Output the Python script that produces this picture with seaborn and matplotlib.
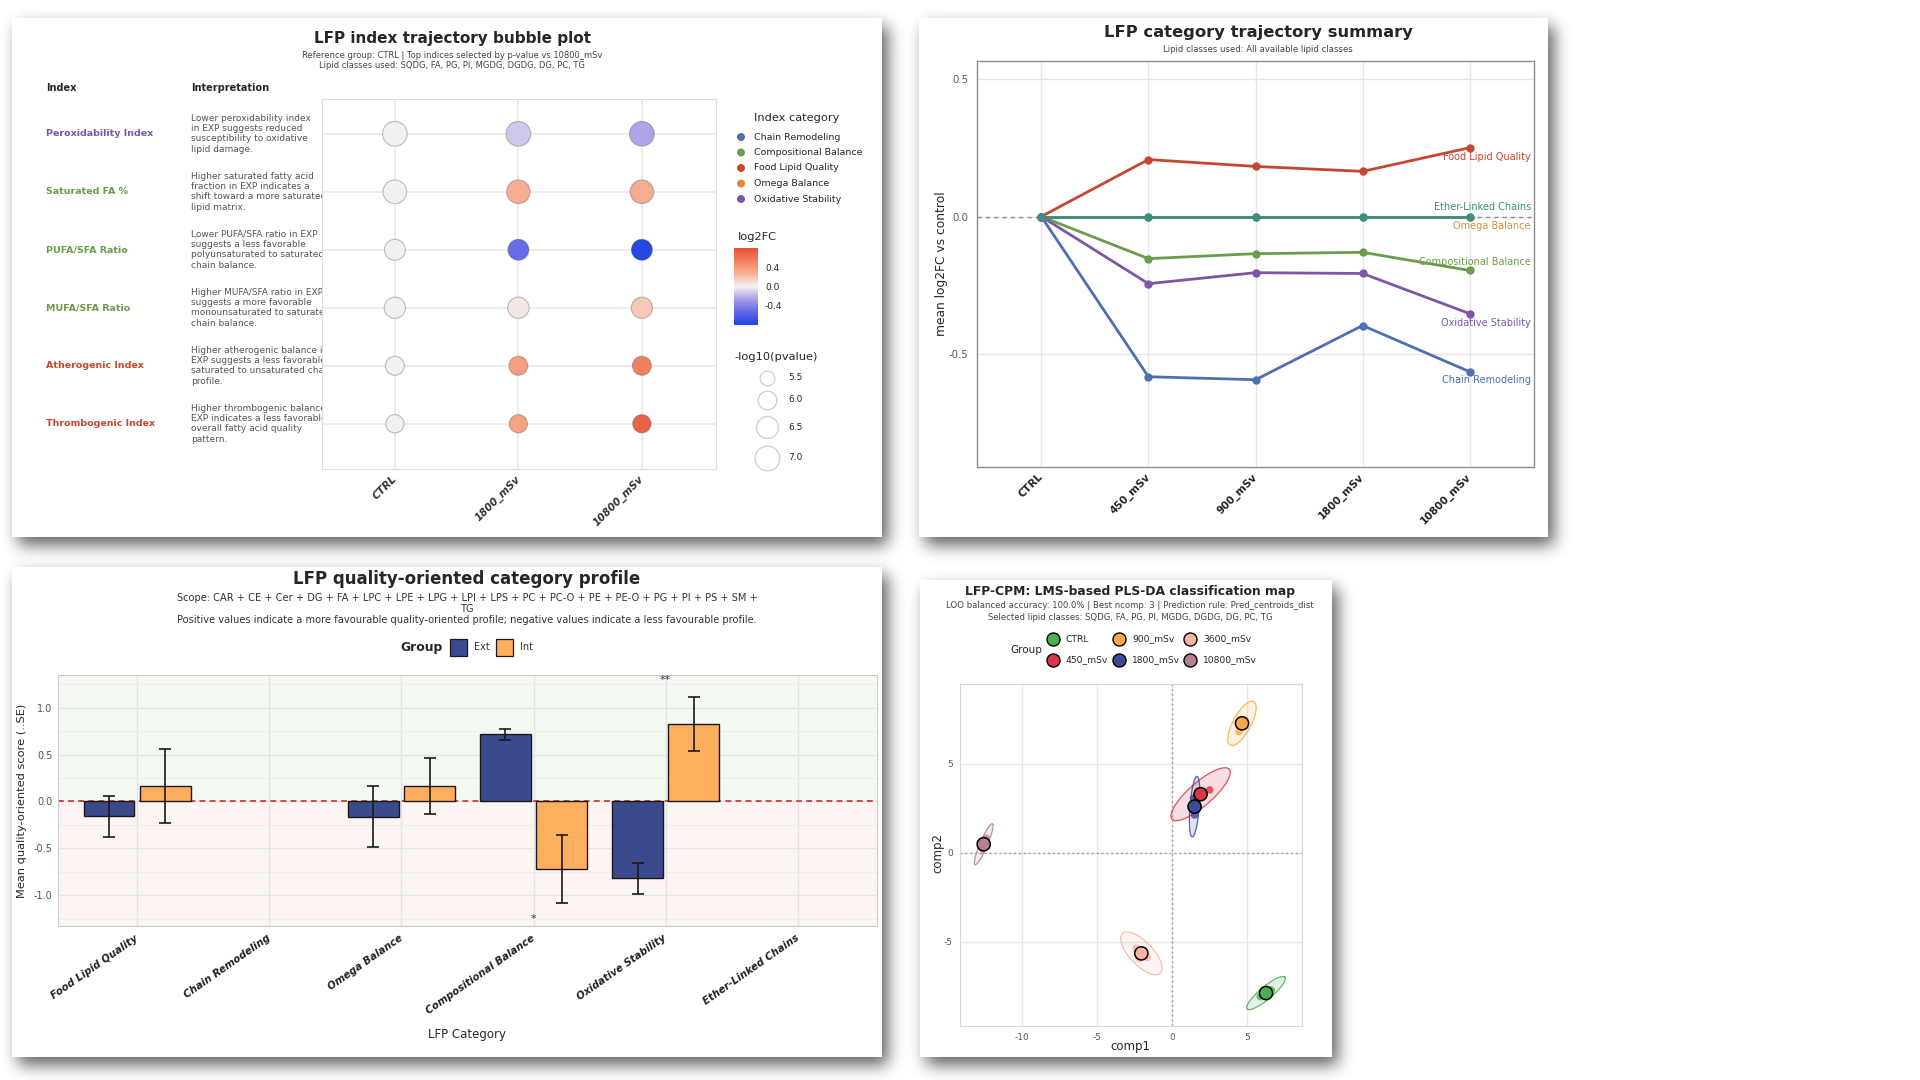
import numpy as np
import pandas as pd
import matplotlib
matplotlib.use("Agg")
import matplotlib.pyplot as plt
import seaborn as sns
from matplotlib.colors import LinearSegmentedColormap, TwoSlopeNorm
from matplotlib.cm import ScalarMappable
from matplotlib.patches import Rectangle
from matplotlib.ticker import FormatStrFormatter

W, H = 1920, 1080

# ---------------- Panel A: index trajectory bubble plot ----------------
BUBBLE_GROUPS = ["CTRL", "1800_mSv", "10800_mSv"]
INDEX_NAMES = ["Peroxidability Index", "Saturated FA %", "PUFA/SFA Ratio",
               "MUFA/SFA Ratio", "Atherogenic Index", "Thrombogenic Index"]
INDEX_CATEGORY = ["Oxidative Stability", "Compositional Balance", "Compositional Balance",
                  "Compositional Balance", "Food Lipid Quality", "Food Lipid Quality"]
INTERPRETATION = [
    "Lower peroxidability index\nin EXP suggests reduced\nsusceptibility to oxidative\nlipid damage.",
    "Higher saturated fatty acid\nfraction in EXP indicates a\nshift toward a more saturated\nlipid matrix.",
    "Lower PUFA/SFA ratio in EXP\nsuggests a less favorable\npolyunsaturated to saturated\nchain balance.",
    "Higher MUFA/SFA ratio in EXP\nsuggests a more favorable\nmonounsaturated to saturated\nchain balance.",
    "Higher atherogenic balance in\nEXP suggests a less favorable\nsaturated to unsaturated chain\nprofile.",
    "Higher thrombogenic balance in\nEXP indicates a less favorable\noverall fatty acid quality\npattern.",
]
LOG2FC_CTRL = [0.0, 0.0, 0.0, 0.0, 0.0, 0.0]
LOG2FC_1800 = [-0.13, 0.30, -0.50, 0.05, 0.38, 0.37]
LOG2FC_10800 = [-0.24, 0.31, -0.78, 0.18, 0.55, 0.72]
NEG_LOG10_P = [7.25, 6.8, 6.35, 6.4, 6.05, 5.95]
SIZE_BREAKS = [5.5, 6.0, 6.5, 7.0]
LOG2FC_TICKS = [0.4, 0.0, -0.4]
LEGEND_CATEGORIES = ["Chain Remodeling", "Compositional Balance", "Food Lipid Quality",
                     "Omega Balance", "Oxidative Stability"]

# ---------------- Panel B: category trajectory summary ----------------
TRAJ_GROUPS = ["CTRL", "450_mSv", "900_mSv", "1800_mSv", "10800_mSv"]
CHAIN_REMODELING = [0.0, -0.582, -0.593, -0.396, -0.564]
COMPOSITIONAL_BALANCE = [0.0, -0.153, -0.135, -0.130, -0.196]
FOOD_LIPID_QUALITY = [0.0, 0.207, 0.182, 0.164, 0.250]
OMEGA_BALANCE = [0.0, 0.0, 0.0, 0.0, 0.0]
OXIDATIVE_STABILITY = [0.0, -0.244, -0.204, -0.207, -0.353]
ETHER_LINKED_CHAINS = [0.0, 0.0, 0.0, 0.0, 0.0]

# ---------------- Panel C: quality-oriented category profile ----------------
PROFILE_CATEGORIES = ["Food Lipid Quality", "Chain Remodeling", "Omega Balance",
                      "Compositional Balance", "Oxidative Stability", "Ether-Linked Chains"]
BAR_CATEGORY = ["Food Lipid Quality", "Food Lipid Quality", "Omega Balance", "Omega Balance",
                "Compositional Balance", "Compositional Balance",
                "Oxidative Stability", "Oxidative Stability"]
BAR_GROUP = ["Ext", "Int", "Ext", "Int", "Ext", "Int", "Ext", "Int"]
BAR_MEAN = [-0.16, 0.165, -0.165, 0.165, 0.715, -0.72, -0.82, 0.825]
BAR_SE = [0.215, 0.40, 0.325, 0.30, 0.055, 0.36, 0.167, 0.29]
SIG_CATEGORY = ["Compositional Balance", "Oxidative Stability"]
SIG_TEXT = ["*", "**"]
SIG_Y = [-1.25, 1.30]

# ---------------- Panel D: PLS-DA classification map ----------------
PLS_GROUPS = ["CTRL", "450_mSv", "900_mSv", "1800_mSv", "3600_mSv", "10800_mSv"]
CENTROID_X = [6.27, 1.91, 4.67, 1.51, -2.04, -12.55]
CENTROID_Y = [-7.87, 3.30, 7.28, 2.60, -5.64, 0.49]
ELL_MAJOR_X = [1.26, 1.91, 0.78, 0.16, 1.25, 0.58]
ELL_MAJOR_Y = [0.89, 1.40, 1.22, 1.70, -1.12, 1.15]
ELL_MINOR_X = [-0.27, -0.51, -0.53, -0.31, 0.58, -0.23]
ELL_MINOR_Y = [0.27, 0.50, 0.24, 0.02, 0.44, 0.08]
SAMPLE_GROUP = ["CTRL", "CTRL", "450_mSv", "450_mSv", "900_mSv", "900_mSv",
                "1800_mSv", "1800_mSv", "3600_mSv", "3600_mSv", "3600_mSv",
                "10800_mSv", "10800_mSv"]
SAMPLE_X = [5.89, 6.62, 2.51, 1.62, 4.47, 4.84, 1.44, 1.51, -2.38, -1.65, -2.18, -12.38, -12.6]
SAMPLE_Y = [-8.07, -7.70, 3.54, 3.07, 6.82, 7.47, 3.07, 2.13, -5.36, -5.87, -5.92, 0.83, 0.21]

CAT_COLORS = {
    "Chain Remodeling": "#4E6FB0",
    "Compositional Balance": "#6B9B4C",
    "Food Lipid Quality": "#C4472F",
    "Omega Balance": "#E08A35",
    "Oxidative Stability": "#7D56A6",
    "Ether-Linked Chains": "#3B8F7E",
}
GROUP_FILL = {"Ext": "#3B4A8B", "Int": "#FDAE5F"}
PLS_COLORS = {"CTRL": "#4CAF50", "450_mSv": "#DC3545", "900_mSv": "#F9A94B",
              "1800_mSv": "#3B4A9B", "3600_mSv": "#F6B5A5", "10800_mSv": "#B5838D"}

FC_NORM = TwoSlopeNorm(vmin=-0.8, vcenter=0.0, vmax=0.82)
FC_CMAP = LinearSegmentedColormap.from_list(
    "fc", [(0, "#1F45E6"), (0.19, "#6A6CE8"), (0.345, "#ADA3E6"), (0.5, "#F2F2F2"),
           (0.65, "#F8B9A0"), (0.8, "#F18A68"), (1, "#E8503A")])


def box(x0, y0, x1, y1):
    return [x0 / W, 1 - y1 / H, (x1 - x0) / W, (y1 - y0) / H]


def soft_shadow(rects, offset=(6, 8), sigma=8.0):
    mask = np.zeros((H, W))
    for x0, y0, x1, y1 in rects:
        mask[y0 + offset[1]:y1 + offset[1], x0 + offset[0]:x1 + offset[0]] = 1.0
    r = int(3 * sigma)
    k = np.exp(-0.5 * (np.arange(-r, r + 1) / sigma) ** 2)
    k /= k.sum()
    mask = np.apply_along_axis(lambda v: np.convolve(v, k, mode="same"), 1, mask)
    mask = np.apply_along_axis(lambda v: np.convolve(v, k, mode="same"), 0, mask)
    return mask


sns.set_style("white")
plt.rcParams["font.family"] = ["DejaVu Sans"]
plt.rcParams["axes.unicode_minus"] = False

fig = plt.figure(figsize=(19.2, 10.8), dpi=100)

# background with panel cards and drop shadows
PANELS = [(12, 18, 882, 537), (919, 18, 1548, 537), (12, 567, 882, 1057), (920, 580, 1332, 1057)]
bg = fig.add_axes([0, 0, 1, 1], zorder=0)
bg.set_xlim(0, W)
bg.set_ylim(H, 0)
bg.axis("off")
shade = np.zeros((H, W, 4))
shade[..., 3] = soft_shadow(PANELS) * 0.62
bg.imshow(shade, extent=(0, W, H, 0), aspect="auto", interpolation="bilinear")
for x0, y0, x1, y1 in PANELS:
    bg.add_patch(Rectangle((x0, y0), x1 - x0, y1 - y0, facecolor="white", edgecolor="none", zorder=2))

ov = fig.add_axes([0, 0, 1, 1], zorder=10)
ov.set_xlim(0, W)
ov.set_ylim(H, 0)
ov.axis("off")

# ================= Panel A =================
rows = []
for g, vals in zip(BUBBLE_GROUPS, [LOG2FC_CTRL, LOG2FC_1800, LOG2FC_10800]):
    for name, v, p in zip(INDEX_NAMES, vals, NEG_LOG10_P):
        rows.append({"group": g, "index": name, "log2fc": v, "nlp": p})
bub = pd.DataFrame(rows)

SIZE_RANGE = (112, 316)
SIZE_NORM = (5.5, 7.0)

axA = fig.add_axes(box(322, 99, 716, 469), zorder=2)
sns.scatterplot(data=bub, x="group", y="index", hue="log2fc", palette=FC_CMAP, hue_norm=FC_NORM,
                size="nlp", sizes=SIZE_RANGE, size_norm=SIZE_NORM,
                edgecolor=(0.3, 0.3, 0.3, 0.35), linewidth=0.8, legend=False, ax=axA, zorder=3)
axA.set_xlim(-0.59, 2.6)
axA.set_ylim(5.78, -0.6)
axA.set_xticks(range(len(BUBBLE_GROUPS)))
axA.set_xticklabels(BUBBLE_GROUPS, rotation=45, ha="right", va="center", rotation_mode="anchor",
                    fontsize=7.5, fontweight="bold", fontstyle="italic", color="#333333")
axA.set_yticks(range(len(INDEX_NAMES)))
axA.set_yticklabels([])
axA.tick_params(length=0, pad=6)
axA.set_xlabel("")
axA.set_ylabel("")
axA.grid(True, color="#EAEAEA", lw=1.2)
axA.set_axisbelow(True)
for s in axA.spines.values():
    s.set_color("#DDDDDD")

tab = fig.add_axes(box(40, 99, 322, 469), zorder=2)
tab.set_xlim(40, 322)
tab.set_ylim(5.78, -0.6)
tab.axis("off")
for i, (name, cat, txt) in enumerate(zip(INDEX_NAMES, INDEX_CATEGORY, INTERPRETATION)):
    tab.text(46, i, name, color=CAT_COLORS[cat], fontweight="bold", fontsize=6.8, va="center")
    tab.text(191, i, txt, color="#555555", fontsize=6.5, va="center", linespacing=1.2, clip_on=True)

ov.text(452, 38, "LFP index trajectory bubble plot", ha="center", va="center", fontsize=11, fontweight="bold")
ov.text(452, 55, "Reference group: CTRL | Top indices selected by p-value vs 10800_mSv",
        ha="center", va="center", fontsize=6.0, color="#444444")
ov.text(452, 66, "Lipid classes used: SQDG, FA, PG, PI, MGDG, DGDG, DG, PC, TG",
        ha="center", va="center", fontsize=6.0, color="#444444")
ov.text(46, 88, "Index", fontsize=7, fontweight="bold", va="center")
ov.text(191, 88, "Interpretation", fontsize=7, fontweight="bold", va="center")

# legends for panel A
ov.text(754, 118, "Index category", fontsize=8.2, va="center")
for k, cat in enumerate(LEGEND_CATEGORIES):
    y = 137 + 15.5 * k
    ov.scatter([741], [y], s=33, color=CAT_COLORS[cat], edgecolor="none")
    ov.text(754, y, cat, fontsize=6.8, va="center")

ov.text(738, 237, "log2FC", fontsize=8.2, va="center")
cax = fig.add_axes(box(734, 248, 758, 325), zorder=3)
cb = fig.colorbar(ScalarMappable(norm=FC_NORM, cmap=FC_CMAP), cax=cax, ticks=LOG2FC_TICKS)
cb.outline.set_visible(False)
cb.ax.set_yticklabels([f"{t:.1f}" for t in LOG2FC_TICKS])
cax.tick_params(length=0, labelsize=6.5, pad=5)

ov.text(734, 357, "-log10(pvalue)", fontsize=8.2, va="center")
for v, y in zip(SIZE_BREAKS, [378, 400, 427, 458]):
    s = SIZE_RANGE[0] + (v - SIZE_NORM[0]) / (SIZE_NORM[1] - SIZE_NORM[0]) * (SIZE_RANGE[1] - SIZE_RANGE[0])
    ov.scatter([767], [y], s=s, facecolor="white", edgecolor="#CFCFCF", linewidth=0.9)
    ov.text(788, y, f"{v:.1f}", fontsize=6.5, va="center")

# ================= Panel B =================
traj_vals = {
    "Chain Remodeling": CHAIN_REMODELING,
    "Compositional Balance": COMPOSITIONAL_BALANCE,
    "Food Lipid Quality": FOOD_LIPID_QUALITY,
    "Omega Balance": OMEGA_BALANCE,
    "Oxidative Stability": OXIDATIVE_STABILITY,
    "Ether-Linked Chains": ETHER_LINKED_CHAINS,
}
traj = pd.DataFrame([{"group": g, "value": v, "category": c}
                     for c, vals in traj_vals.items() for g, v in zip(TRAJ_GROUPS, vals)])

axB = fig.add_axes(box(977, 61, 1534, 467), zorder=2)
axB.axhline(0, color="#8A8A8A", lw=1.0, ls=(0, (3, 3)), zorder=1)
sns.lineplot(data=traj, x="group", y="value", hue="category", hue_order=list(traj_vals.keys()),
             palette=CAT_COLORS, marker="o", markersize=6, markeredgewidth=0, linewidth=2.0,
             sort=False, errorbar=None, legend=False, ax=axB, zorder=3)
axB.set_xlim(-0.6, 4.6)
axB.set_ylim(-0.91, 0.565)
axB.set_xticks(range(len(TRAJ_GROUPS)))
axB.set_xticklabels(TRAJ_GROUPS, rotation=45, ha="right", va="center", rotation_mode="anchor",
                    fontsize=7.5, fontweight="bold", color="#222222")
axB.set_yticks([-0.5, 0.0, 0.5])
axB.yaxis.set_major_formatter(FormatStrFormatter("%.1f"))
axB.tick_params(axis="y", labelsize=7.3, labelcolor="#555555", length=0, pad=6)
axB.tick_params(axis="x", length=0, pad=6)
axB.grid(True, color="#E6E6E6", lw=1.0)
axB.set_axisbelow(True)
for s in axB.spines.values():
    s.set_color("#8C8C8C")
    s.set_linewidth(1.0)
axB.set_xlabel("")
axB.set_ylabel("mean log2FC vs control", fontsize=8.8, va="center")
axB.yaxis.set_label_coords(-0.063, 0.5)

LABEL_OFFSET = {"Food Lipid Quality": -6.5, "Ether-Linked Chains": 6.5, "Omega Balance": -6.5,
                "Compositional Balance": 5.8, "Oxidative Stability": -6.5, "Chain Remodeling": -5.8}
for cat, vals in traj_vals.items():
    axB.annotate(cat, xy=(len(TRAJ_GROUPS) - 1, vals[-1]), xytext=(44, LABEL_OFFSET[cat]),
                 textcoords="offset points", ha="right", va="center", fontsize=7,
                 color=CAT_COLORS[cat], zorder=5)

ov.text(1258, 32, "LFP category trajectory summary", ha="center", va="center", fontsize=11.8, fontweight="bold")
ov.text(1258, 50, "Lipid classes used: All available lipid classes", ha="center", va="center",
        fontsize=6.1, color="#444444")

# ================= Panel C =================
bars = pd.DataFrame({"category": BAR_CATEGORY, "group": BAR_GROUP, "mean": BAR_MEAN, "se": BAR_SE})
se_lookup = {(c, g): s for c, g, s in zip(BAR_CATEGORY, BAR_GROUP, BAR_SE)}

axC = fig.add_axes(box(58, 675, 877, 926), zorder=2)
axC.set_ylim(-1.33, 1.35)
axC.axhspan(0, 1.35, color="#F4F9F2", zorder=0, lw=0)
axC.axhspan(-1.33, 0, color="#FCF5F3", zorder=0, lw=0)
sns.barplot(data=bars, x="category", y="mean", hue="group", order=PROFILE_CATEGORIES,
            hue_order=["Ext", "Int"], palette=GROUP_FILL, saturation=1, width=0.85, gap=0.1,
            edgecolor="#1A1A1A", linewidth=1.0, errorbar=None, legend=False, ax=axC, zorder=2)
axC.axhline(0, color="#D64541", lw=1.4, ls=(0, (3, 2.2)), zorder=1.5)
for cont, grp in zip(axC.containers, ["Ext", "Int"]):
    for bar in cont:
        cx = bar.get_x() + bar.get_width() / 2
        cat = PROFILE_CATEGORIES[int(round(cx))]
        axC.errorbar(cx, bar.get_height(), yerr=se_lookup[(cat, grp)], fmt="none", ecolor="#1A1A1A",
                     elinewidth=1.2, capsize=4.3, capthick=1.2, zorder=4)
for cat, txt, y in zip(SIG_CATEGORY, SIG_TEXT, SIG_Y):
    axC.text(PROFILE_CATEGORIES.index(cat), y, txt, ha="center", va="center", fontsize=8, color="#333333")
axC.set_xlim(-0.6, 5.6)
axC.set_yticks([-1.0, -0.5, 0.0, 0.5, 1.0])
axC.set_yticks([-1.25, -0.75, -0.25, 0.25, 0.75, 1.25], minor=True)
axC.yaxis.set_major_formatter(FormatStrFormatter("%.1f"))
axC.set_xticks(range(len(PROFILE_CATEGORIES)))
axC.set_xticklabels(PROFILE_CATEGORIES, rotation=35, ha="right", va="center", rotation_mode="anchor",
                    fontsize=7.3, fontweight="bold", fontstyle="italic", color="#222222")
axC.tick_params(axis="y", labelsize=7, labelcolor="#555555", length=0, pad=4)
axC.tick_params(axis="x", length=0, pad=8)
axC.tick_params(which="minor", length=0)
axC.grid(True, which="major", color="#E4E4E4", lw=1.0)
axC.grid(True, which="minor", axis="y", color="#EDEDED", lw=0.8)
axC.set_axisbelow(True)
for s in axC.spines.values():
    s.set_color("#CCCCCC")
axC.set_xlabel("LFP Category", fontsize=8.5, va="center")
axC.xaxis.set_label_coords(0.5, -0.434)
axC.set_ylabel("Mean quality-oriented score (..SE)", fontsize=8.2, va="center")
axC.yaxis.set_label_coords(-0.044, 0.5)

ov.text(467, 579, "LFP quality-oriented category profile", ha="center", va="center", fontsize=12, fontweight="bold")
ov.text(467, 598, "Scope: CAR + CE + Cer + DG + FA + LPC + LPE + LPG + LPI + LPS + PC + PC-O + PE + PE-O + PG + PI + PS + SM +",
        ha="center", va="center", fontsize=7.1, color="#333333")
ov.text(467, 609, "TG", ha="center", va="center", fontsize=7.1, color="#333333")
ov.text(467, 620, "Positive values indicate a more favourable quality-oriented profile; negative values indicate a less favourable profile.",
        ha="center", va="center", fontsize=7.1, color="#333333")
ov.text(400, 647, "Group", fontsize=8.9, fontweight="bold", va="center")
for grp, x0 in zip(["Ext", "Int"], [450, 496]):
    ov.add_patch(Rectangle((x0, 639), 17, 17, facecolor=GROUP_FILL[grp], edgecolor="#1A1A1A", lw=0.9))
    ov.text(x0 + 24, 647, grp, fontsize=7, va="center", color="#333333")

# ================= Panel D =================
axD = fig.add_axes(box(960, 684, 1302, 1026), zorder=2)
t = np.linspace(0, 2 * np.pi, 120)
for g, cx, cy, mx, my, nx, ny in zip(PLS_GROUPS, CENTROID_X, CENTROID_Y, ELL_MAJOR_X, ELL_MAJOR_Y,
                                      ELL_MINOR_X, ELL_MINOR_Y):
    ex = cx + mx * np.cos(t) + nx * np.sin(t)
    ey = cy + my * np.cos(t) + ny * np.sin(t)
    axD.fill(ex, ey, color=PLS_COLORS[g], alpha=0.16, lw=0, zorder=2)
    axD.plot(ex, ey, color=PLS_COLORS[g], lw=0.9, alpha=0.85, zorder=2)
samples = pd.DataFrame({"group": SAMPLE_GROUP, "comp1": SAMPLE_X, "comp2": SAMPLE_Y})
cents = pd.DataFrame({"group": PLS_GROUPS, "comp1": CENTROID_X, "comp2": CENTROID_Y})
sns.scatterplot(data=samples, x="comp1", y="comp2", hue="group", palette=PLS_COLORS, s=30,
                alpha=0.8, edgecolor="none", legend=False, ax=axD, zorder=3)
sns.scatterplot(data=cents, x="comp1", y="comp2", hue="group", palette=PLS_COLORS, s=90,
                edgecolor="black", linewidth=1.1, legend=False, ax=axD, zorder=4)
axD.axhline(0, color="#A0A0A0", lw=1.0, ls=(0, (1.5, 2)), zorder=1)
axD.axvline(0, color="#A0A0A0", lw=1.0, ls=(0, (1.5, 2)), zorder=1)
axD.set_xlim(-14.13, 8.67)
axD.set_ylim(-9.72, 9.49)
axD.set_xticks([-10, -5, 0, 5])
axD.set_yticks([-5, 0, 5])
axD.tick_params(labelsize=6.5, labelcolor="#555555", length=0, pad=5)
axD.grid(True, color="#E8E8E8", lw=1.0)
axD.set_axisbelow(True)
for s in axD.spines.values():
    s.set_color("#D8D8D8")
axD.set_xlabel("comp1", fontsize=8.5, va="center")
axD.xaxis.set_label_coords(0.497, -0.061)
axD.set_ylabel("comp2", fontsize=8.5, va="center")
axD.yaxis.set_label_coords(-0.064, 0.506)

ov.text(1130, 591, "LFP-CPM: LMS-based PLS-DA classification map", ha="center", va="center",
        fontsize=8.9, fontweight="bold")
ov.text(1130, 606, "LOO balanced accuracy: 100.0% | Best ncomp: 3 | Prediction rule: Pred_centroids_dist",
        ha="center", va="center", fontsize=6.1, color="#444444")
ov.text(1130, 617, "Selected lipid classes: SQDG, FA, PG, PI, MGDG, DGDG, DG, PC, TG",
        ha="center", va="center", fontsize=6.1, color="#444444")
ov.text(1010, 650, "Group", fontsize=7.5, va="center")
LEG_X = [1053, 1053, 1119, 1119, 1190, 1190]
LEG_Y = [639, 660, 639, 660, 639, 660]
for g, lx, ly in zip(PLS_GROUPS, LEG_X, LEG_Y):
    ov.scatter([lx], [ly], s=88, color=PLS_COLORS[g], edgecolor="black", linewidth=1.0)
    ov.text(lx + 13, ly, g, fontsize=6.6, va="center")

fig.savefig("out.png", dpi=100)
